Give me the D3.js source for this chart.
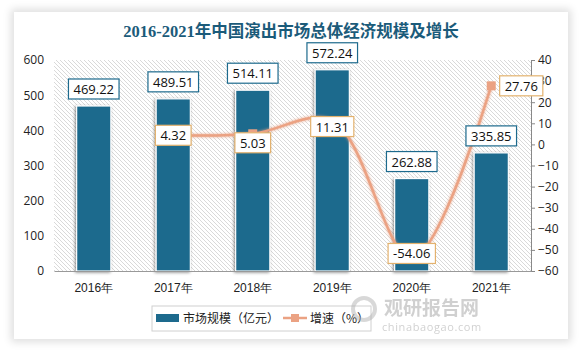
<!DOCTYPE html>
<html>
<head>
<meta charset="utf-8">
<script src="https://cdn.jsdelivr.net/npm/d3@7"></script>
<style>
  body { margin: 0; background: #fff; font-family: "Noto Sans CJK SC", "Open Sans", sans-serif; }
  #card { position: absolute; left: 14px; top: 12px; width: 554px; height: 327px; background: #fff;
          box-shadow: 0 0 8px 3px rgba(0,0,0,0.13); }
  svg { position: absolute; left: 0; top: 0; }
</style>
</head>
<body>
<div id="card"></div>
<div id="chart"></div>
<script>
var years = ["2016年", "2017年", "2018年", "2019年", "2020年", "2021年"];
var scale = [469.22, 489.51, 514.11, 572.24, 262.88, 335.85];
var growth = [null, 4.32, 5.03, 11.31, -54.06, 27.76];
var leftTicks = [0, 100, 200, 300, 400, 500, 600];
var rightTicks = [-60, -50, -40, -30, -20, -10, 0, 10, 20, 30, 40];

var W = 583, H = 352;
var margin = {left: 54, right: 52, top: 60, bottom: 81};
var barColor = "#1d6a8d", lineColor = "#eba283", lineLabel = "#e3b26e";

var svg = d3.select("#chart").append("svg").attr("width", W).attr("height", H);
var defs = svg.append("defs");

// hatch pattern for the plot area
var pat = defs.append("pattern").attr("id", "hatch").attr("patternUnits", "userSpaceOnUse")
    .attr("width", 4).attr("height", 4);
pat.append("path").attr("d", "M-1,-1L5,5M3,-1L5,1M-1,3L1,5")
    .attr("stroke", "#d9d9d9").attr("stroke-width", 1);

var sh = defs.append("filter").attr("id", "shadow").attr("x", "-30%").attr("y", "-30%").attr("width", "160%").attr("height", "160%");
sh.append("feDropShadow").attr("dx", -1).attr("dy", 1).attr("stdDeviation", 1.5).attr("flood-color", "#000").attr("flood-opacity", 0.45);
var glow = defs.append("filter").attr("id", "glow").attr("x", "-20%").attr("y", "-20%").attr("width", "140%").attr("height", "140%");
glow.append("feGaussianBlur").attr("in", "SourceGraphic").attr("stdDeviation", 1.5).attr("result", "b");
var gm = glow.append("feMerge");
gm.append("feMergeNode").attr("in", "b");
gm.append("feMergeNode").attr("in", "SourceGraphic");

// title
svg.append("text").attr("x", 291).attr("y", 37).attr("text-anchor", "middle")
    .attr("font-family", "'Liberation Serif', 'Noto Sans CJK SC', serif")
    .attr("font-weight", "bold").attr("font-size", 16.5).attr("fill", "#1b5b7a")
    .text("2016-2021年中国演出市场总体经济规模及增长");

var x0 = margin.left, x1 = W - margin.right, y0 = H - margin.bottom, y1 = margin.top;

var x = d3.scaleBand().domain(years).range([x0, x1]).paddingInner(0.57).paddingOuter(0.285);
var yL = d3.scaleLinear().domain([0, 600]).range([y0, y1]);
var yR = d3.scaleLinear().domain([-60, 40]).range([y0, y1]);

svg.append("rect").attr("x", x0).attr("y", y1).attr("width", x1 - x0).attr("height", y0 - y1)
    .attr("fill", "url(#hatch)");

// left axis
var axL = svg.append("g").attr("transform", "translate(" + x0 + ",0)")
    .call(d3.axisLeft(yL).tickValues(leftTicks).tickSize(0).tickPadding(10));
axL.select(".domain").remove();
axL.selectAll("text").attr("font-size", 12).attr("fill", "#222").attr("font-family", "'Open Sans', sans-serif");

// right axis
var axR = svg.append("g").attr("transform", "translate(" + x1 + ",0)")
    .call(d3.axisRight(yR).tickValues(rightTicks).tickSize(4).tickPadding(3));
axR.select(".domain").attr("stroke", "#888");
axR.selectAll("line").attr("stroke", "#888");
axR.selectAll("text").attr("font-size", 12).attr("fill", "#222").attr("font-family", "'Open Sans', sans-serif");

// bars
svg.append("g").selectAll("rect").data(scale).join("rect")
    .attr("x", function(d, i) { return x(years[i]); })
    .attr("y", function(d) { return yL(d); })
    .attr("width", x.bandwidth())
    .attr("height", function(d) { return y0 - yL(d); })
    .attr("fill", barColor).attr("stroke", "#fff").attr("stroke-width", 1.2)
    .attr("filter", "url(#shadow)");

// x axis
var axB = svg.append("g").attr("transform", "translate(0," + y0 + ")")
    .call(d3.axisBottom(x).tickSize(0).tickPadding(12));
axB.select(".domain").attr("stroke", "#999").attr("stroke-width", 1.2);
axB.selectAll("text").attr("font-size", 12).attr("fill", "#222");

// growth line
var pts = growth.map(function(d, i) { return d === null ? null : [x(years[i]) + x.bandwidth() / 2, yR(d)]; })
    .filter(function(p) { return p; });
var line = d3.line().curve(d3.curveCatmullRom.alpha(0.5));
svg.append("path").attr("d", line(pts)).attr("fill", "none").attr("stroke", lineColor)
    .attr("stroke-width", 2.5).attr("filter", "url(#glow)");
svg.append("g").selectAll("rect").data(pts).join("rect")
    .attr("x", function(p) { return p[0] - 4.5; }).attr("y", function(p) { return p[1] - 4.5; })
    .attr("width", 9).attr("height", 9).attr("fill", lineColor);

function label(cx, cy, txt, border) {
  var g = svg.append("g");
  var t = g.append("text").attr("x", cx).attr("y", cy + 5).attr("text-anchor", "middle")
      .attr("font-size", 13).attr("fill", "#111").attr("font-family", "'Open Sans', sans-serif").text(txt);
  var w = t.node().getComputedTextLength() + 10;
  g.insert("rect", "text").attr("x", cx - w / 2).attr("y", cy - 10).attr("width", w).attr("height", 20)
      .attr("fill", "#fff").attr("stroke", border).attr("stroke-width", 1.2);
}

// bar labels
scale.forEach(function(d, i) {
  label(x(years[i]) + x.bandwidth() / 2, yL(d) - 17, d.toFixed(2), barColor);
});

// growth labels
var offs = [null, [0, 0], [0, 9], [0, 6], [0, -5], [30, 0]];
growth.forEach(function(d, i) {
  if (d === null) return;
  var cx = x(years[i]) + x.bandwidth() / 2 + offs[i][0];
  label(cx, yR(d) + offs[i][1], d.toFixed(2), lineLabel);
});

// legend
var lg = svg.append("g");
lg.append("rect").attr("x", 152).attr("y", 306).attr("width", 219).attr("height", 25)
    .attr("fill", "#fff").attr("stroke", "#d0d0d0");
lg.append("rect").attr("x", 156).attr("y", 314).attr("width", 23).attr("height", 8).attr("fill", barColor);
lg.append("text").attr("x", 183).attr("y", 323).attr("font-size", 12).attr("fill", "#222").text("市场规模（亿元）");
lg.append("line").attr("x1", 283).attr("x2", 307).attr("y1", 318).attr("y2", 318)
    .attr("stroke", lineColor).attr("stroke-width", 2.5);
lg.append("rect").attr("x", 291).attr("y", 314).attr("width", 8).attr("height", 8).attr("fill", lineColor);
lg.append("text").attr("x", 310).attr("y", 323).attr("font-size", 12).attr("fill", "#222").text("增速（%）");

// watermark
var wm = svg.append("g").attr("opacity", 0.45);
wm.append("circle").attr("cx", 364).attr("cy", 309).attr("r", 11).attr("fill", "none")
    .attr("stroke", "#aaa").attr("stroke-width", 4);
wm.append("text").attr("x", 384).attr("y", 315).attr("font-size", 19).attr("font-weight", "bold")
    .attr("fill", "#999").text("观研报告网");
wm.append("text").attr("x", 382).attr("y", 331).attr("font-size", 11).attr("fill", "#999")
    .attr("font-family", "'Open Sans', sans-serif").attr("letter-spacing", 0.6).text("chinabaogao.com");
</script>
</body>
</html>
